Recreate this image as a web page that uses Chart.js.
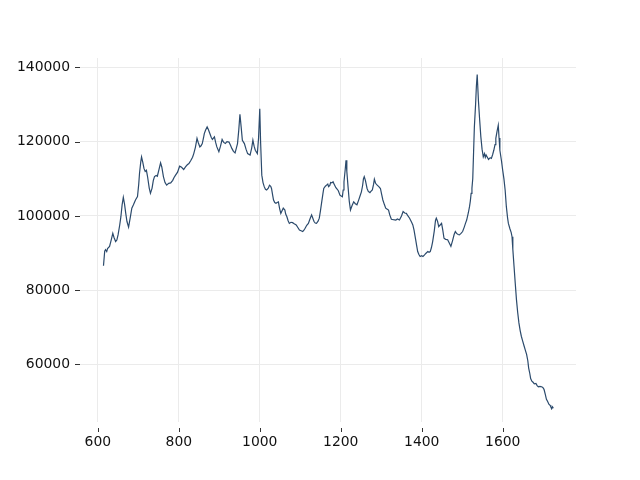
<!DOCTYPE html>
<html>
<head>
<meta charset="utf-8">
<script src="https://cdn.jsdelivr.net/npm/chart.js@4/dist/chart.umd.min.js"></script>
<style>
  html, body { margin: 0; padding: 0; background: #fff; }
  canvas { display: block; }
</style>
</head>
<body>
<canvas id="spectrumChart" width="640" height="480"></canvas>
<script>
const xValues = [
  614, 617, 619, 622, 624, 629, 633, 637, 640, 644, 647, 650, 654, 657, 660, 663, 666, 669, 672, 676,
  680, 684, 688, 693, 698, 701, 703, 706, 708, 711, 714, 717, 720, 723, 727, 730, 734, 737, 740, 744,
  747, 751, 755, 758, 762, 766, 770, 775, 780, 785, 788, 792, 797, 802, 807, 812, 817, 821, 825, 830,
  834, 837, 841, 845, 848, 852, 855, 858, 861, 863, 866, 870, 873, 876, 880, 883, 888, 891, 894, 899,
  903, 907, 911, 915, 919, 924, 928, 931, 935, 939, 942, 945, 948, 951, 954, 957, 962, 966, 970, 976,
  980, 983, 986, 989, 994, 997, 1000, 1002, 1005, 1008, 1011, 1014, 1017, 1021, 1024, 1027, 1029, 1032, 1034, 1037,
  1040, 1043, 1046, 1049, 1052, 1055, 1058, 1062, 1064, 1067, 1070, 1073, 1077, 1081, 1085, 1090, 1094, 1098, 1102, 1106,
  1109, 1112, 1116, 1120, 1124, 1128, 1131, 1134, 1137, 1140, 1144, 1147, 1150, 1153, 1156, 1158, 1162, 1165, 1168, 1170,
  1173, 1175, 1178, 1181, 1184, 1188, 1191, 1194, 1198, 1201, 1204, 1206, 1208, 1211, 1213, 1215, 1218, 1221, 1224, 1228,
  1232, 1236, 1240, 1244, 1248, 1251, 1254, 1256, 1258, 1261, 1265, 1268, 1272, 1275, 1278, 1281, 1283, 1286, 1290, 1294,
  1298, 1301, 1304, 1308, 1311, 1314, 1318, 1321, 1325, 1330, 1336, 1340, 1345, 1350, 1354, 1358, 1362, 1366, 1370, 1375,
  1378, 1381, 1385, 1388, 1390, 1393, 1396, 1400, 1403, 1407, 1410, 1415, 1418, 1421, 1424, 1427, 1431, 1434, 1436, 1439,
  1442, 1445, 1449, 1452, 1455, 1459, 1464, 1468, 1472, 1476, 1480, 1483, 1486, 1490, 1493, 1497, 1501, 1505, 1508, 1511,
  1515, 1518, 1520, 1522, 1524, 1526, 1528, 1530, 1533, 1535, 1537, 1540, 1543, 1546, 1549, 1552, 1555, 1557, 1559, 1562,
  1565, 1569, 1572, 1575, 1578, 1581, 1583, 1586, 1589, 1591, 1593, 1597, 1600, 1603, 1606, 1609, 1612, 1614, 1618, 1621,
  1623, 1625, 1628, 1631, 1634, 1637, 1640, 1643, 1646, 1649, 1653, 1656, 1659, 1662, 1664, 1667, 1669, 1672, 1675, 1678,
  1682, 1685, 1688, 1692, 1696, 1699, 1702, 1705, 1708, 1711, 1714, 1717, 1719, 1721, 1723, 1725
];

const yValues = [
  86600, 90500, 90900, 90400, 91200, 91800, 93500, 95300, 94200, 93100, 93500, 94900, 97500, 99800, 103000, 105000, 103200, 100700, 98500, 97000,
  99500, 102100, 103000, 104300, 105200, 108500, 111500, 114500, 115900, 114500, 112800, 112000, 112300, 110500, 107500, 106100, 107500, 109500, 110600, 110900,
  110700, 112500, 114300, 113200, 110600, 109000, 108300, 108800, 108900, 109600, 110300, 111000, 111800, 113400, 113100, 112500, 113300, 113800, 114100, 115000,
  115800, 116800, 118500, 120900, 119800, 118600, 118900, 119500, 121000, 122200, 123100, 124000, 123300, 122400, 121200, 120600, 121300, 119800, 118600, 117300,
  118800, 120600, 119800, 119500, 120000, 119900, 119000, 118200, 117400, 117000, 118200, 119500, 123000, 127400, 124000, 120400, 119500, 118000, 116800, 116400,
  118300, 120400, 118800, 117700, 116800, 121000, 128900, 120000, 111000, 109000, 107900, 107200, 107000, 107500, 108300, 108000, 107400, 105500, 104300, 103600,
  103400, 103600, 103800, 102000, 100700, 101400, 102100, 101600, 100500, 99800, 98700, 98000, 98300, 98200, 97900, 97600, 96900, 96200, 96000, 95800,
  96200, 96700, 97500, 98000, 99200, 100300, 99400, 98500, 98100, 98000, 98600, 99400, 101500, 103800, 106000, 107400, 108000, 108300, 108600, 107900,
  108200, 109000, 108900, 109200, 108500, 107600, 107200, 106800, 105600, 105400, 105200, 107000, 109200, 112500, 115000, 112000, 107900, 104000, 101600, 102800,
  103800, 103300, 103000, 104200, 105500, 106500, 108200, 110000, 110600, 109500, 107400, 106600, 106300, 106700, 107000, 108500, 109900, 108800, 108300, 107900,
  107400, 105800, 104300, 103000, 102100, 101900, 101600, 100300, 99100, 99000, 98900, 99200, 98900, 100000, 101200, 100800, 100700, 100000, 99400, 98300,
  97600, 96200, 93600, 91700, 90400, 89600, 89100, 89300, 89100, 89500, 89900, 90400, 90200, 90400, 91500, 93100, 96000, 98800, 99400, 98600,
  97100, 97500, 98000, 96200, 94000, 93700, 93600, 92700, 91800, 93300, 95000, 95800, 95300, 95000, 94900, 95300, 95800, 97000, 98000, 98900,
  100800, 102500, 104000, 106100, 107500, 110000, 117000, 124000, 130000, 135000, 138100, 131100, 126000, 121300, 118000, 115900, 116800, 115800, 116400, 115800,
  115200, 115700, 115500, 116500, 117700, 119200, 120900, 122800, 124400, 121000, 117700, 114800, 112300, 110000, 107000, 102500, 99500, 98000, 96500, 95500,
  94400, 91000, 86400, 81800, 77400, 74000, 71200, 69200, 67600, 66400, 64900, 63800, 62700, 61000, 59100, 57500, 56200, 55500, 55200, 54800,
  54900, 54300, 54000, 54100, 54000, 53800, 53300, 52000, 50600, 50000, 49300, 49000, 48500, 48100, 48600, 48200
];

const xTicks = [600, 800, 1000, 1200, 1400, 1600];
const yTicks = [60000, 80000, 100000, 120000, 140000];

const lineColor = '#2b4a6c';
const gridColor = '#ebebeb';
const tickFont = { family: 'DejaVu Sans', size: 13.9 };

// small outward tick marks, the x ones sit a bit below the plot like the original
const tickMarks = {
  id: 'tickMarks',
  afterDraw(chart) {
    const ctx = chart.ctx;
    const area = chart.chartArea;
    const xs = chart.scales.x;
    const ys = chart.scales.y;
    ctx.save();
    ctx.strokeStyle = '#333';
    ctx.lineWidth = 1;
    ctx.beginPath();
    xs.ticks.forEach(t => {
      const px = Math.round(xs.getPixelForValue(t.value)) + 0.5;
      ctx.moveTo(px, area.bottom + 6);
      ctx.lineTo(px, area.bottom + 10);
    });
    ys.ticks.forEach(t => {
      const py = Math.round(ys.getPixelForValue(t.value)) + 0.5;
      ctx.moveTo(area.left - 5, py);
      ctx.lineTo(area.left, py);
    });
    ctx.stroke();
    ctx.restore();
  }
};

const ctx = document.getElementById('spectrumChart').getContext('2d');

new Chart(ctx, {
  type: 'line',
  data: {
    datasets: [{
      data: xValues.map((x, i) => ({ x: x, y: yValues[i] })),
      borderColor: lineColor,
      borderWidth: 1.2,
      pointRadius: 0,
      tension: 0,
      fill: false
    }]
  },
  options: {
    responsive: false,
    animation: false,
    layout: { padding: { left: 0, top: 58, right: 64, bottom: 0 } },
    plugins: {
      legend: { display: false },
      tooltip: { enabled: false }
    },
    scales: {
      x: {
        type: 'linear',
        min: 556,
        max: 1781,
        afterBuildTicks: scale => { scale.ticks = xTicks.map(v => ({ value: v })); },
        afterFit: scale => { scale.height = 58; },
        border: { display: false },
        grid: { color: gridColor, lineWidth: 1, drawTicks: false },
        ticks: {
          padding: 12,
          color: '#111',
          font: tickFont,
          maxRotation: 0,
          callback: value => String(value)
        }
      },
      y: {
        type: 'linear',
        min: 44500,
        max: 142550,
        afterBuildTicks: scale => { scale.ticks = yTicks.map(v => ({ value: v })); },
        afterFit: scale => { scale.width = 80; },
        border: { display: false },
        grid: { color: gridColor, lineWidth: 1, drawTicks: false },
        ticks: {
          padding: 10,
          color: '#111',
          font: tickFont,
          callback: value => String(value)
        }
      }
    }
  },
  plugins: [tickMarks]
});
</script>
</body>
</html>
